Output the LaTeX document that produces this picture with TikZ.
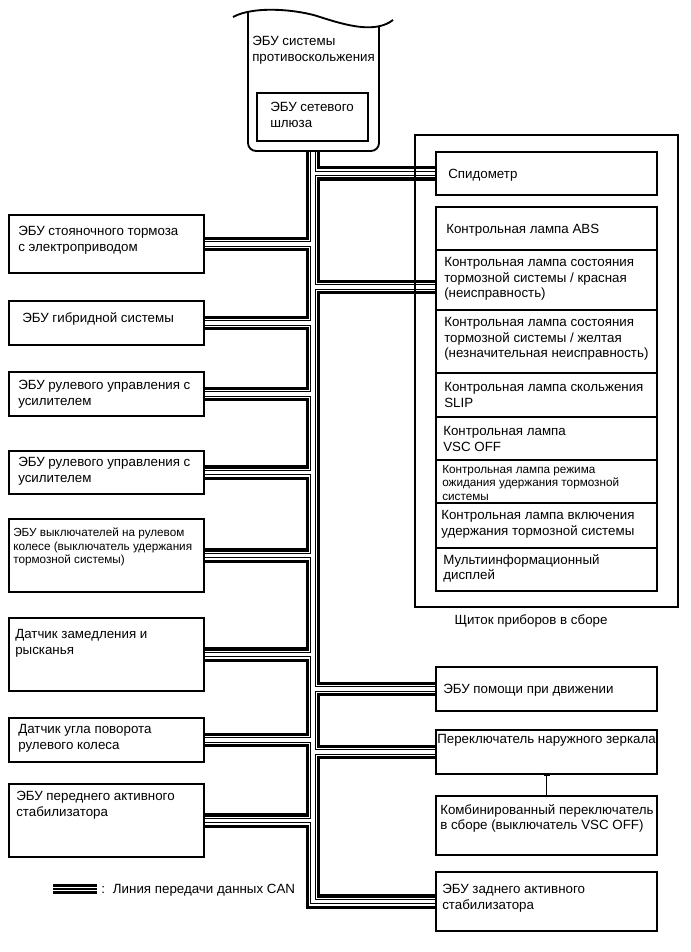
\documentclass[tikz,border=0pt]{standalone}
\usepackage{fontspec}
\setmainfont{Liberation Sans}
\usetikzlibrary{arrows.meta, fit, backgrounds}

\begin{document}
\begin{tikzpicture}[
    x=0.75pt, y=-0.75pt,
    every node/.style={font=\fontsize{10}{11.7}\selectfont},
    box/.style={draw, line width=1.4pt, inner sep=0pt},
    txt/.style={anchor=north west, inner sep=0pt, align=left},
    small/.style={font=\fontsize{8.8}{10}\selectfont},
    can/.style={draw=black, line width=11pt, line join=miter,
        postaction={draw=white, line width=6pt},
        postaction={draw=black, line width=4pt},
        postaction={draw=white, line width=2.6pt}},
    canleg/.style={draw=black, line width=7pt,
        postaction={draw=white, line width=3pt},
        postaction={draw=black, line width=1pt}},
]

\useasboundingbox (0,0) rectangle (691,952);

% ---------------------------------------------------------------- skid control ECU (top)
\draw[line width=1.4pt, rounded corners=6pt] (248,12) -- (248,151) -- (379,151) -- (379,26);
\draw[line width=1.4pt] (233,17) .. controls (255,5) and (300,10) .. (320,17)
    .. controls (345,25) and (375,34) .. (393,20);
\node[txt] (skid) at (252,36) {ЭБУ системы\\противоскольжения};
\coordinate (top) at (313,151);

\node[box, fit={(257,93) (368,141)}] (gw) {};
\node[txt] at (270,102) {ЭБУ сетевого\\шлюза};

% ---------------------------------------------------------------- left column
\node[box, fit={(9,215) (204,273)}] (epb) {};
\node[txt] at (18,226) {ЭБУ стояночного тормоза\\с электроприводом};

\node[box, fit={(9,301) (204,345)}] (hv) {};
\node[txt] at (22,312) {ЭБУ гибридной системы};

\node[box, fit={(9,372) (204,416)}] (eps1) {};
\node[txt] at (18,380) {ЭБУ рулевого управления с\\усилителем};

\node[box, fit={(9,451) (204,494)}] (eps2) {};
\node[txt] at (18,457) {ЭБУ рулевого управления с\\усилителем};

\node[box, fit={(9,519) (204,592)}] (swecu) {};
\node[txt, small] at (13,528) {ЭБУ выключателей на рулевом\\колесе (выключатель удержания\\тормозной системы)};

\node[box, fit={(9,618) (204,691)}] (yaw) {};
\node[txt] at (15,629) {Датчик замедления и\\рысканья};

\node[box, fit={(9,718) (204,762)}] (steer) {};
\node[txt] at (18,724) {Датчик угла поворота\\рулевого колеса};

\node[box, fit={(9,784) (204,857)}] (fstab) {};
\node[txt] at (16,791) {ЭБУ переднего активного\\стабилизатора};

% ---------------------------------------------------------------- combination meter
\node[box, fit={(415,135) (678,607)}] (meter) {};
\node (meterlbl) at (531,621) {Щиток приборов в сборе};

\node[box, fit={(436,152) (657,195)}] (speedo) {};
\node[txt] at (448,169) {Спидометр};

\node[box, fit={(436,207) (657,250)}] (abs) {};
\node[txt] at (446,224) {Контрольная лампа ABS};
\node[box, fit={(436,250) (657,310)}] (brkred) {};
\node[txt] at (444,257) {Контрольная лампа состояния\\тормозной системы / красная\\(неисправность)};
\node[box, fit={(436,310) (657,373)}] (brkyel) {};
\node[txt] at (444,317) {Контрольная лампа состояния\\тормозной системы / желтая\\(незначительная неисправность)};
\node[box, fit={(436,373) (657,417)}] (slip) {};
\node[txt] at (444,382) {Контрольная лампа скольжения\\SLIP};
\node[box, fit={(436,417) (657,460)}] (vscoff) {};
\node[txt] at (443,426) {Контрольная лампа\\VSC OFF};
\node[box, fit={(436,460) (657,503)}] (standby) {};
\node[txt, small] at (442,465) {Контрольная лампа режима\\ожидания удержания тормозной\\системы};
\node[box, fit={(436,503) (657,548)}] (hold) {};
\node[txt] at (441,510) {Контрольная лампа включения\\удержания тормозной системы};
\node[box, fit={(436,548) (657,591)}] (mid) {};
\node[txt] at (443,554) {Мультиинформационный\\дисплей};

% ---------------------------------------------------------------- right column
\node[box, fit={(436,667) (657,711)}] (assist) {};
\node[txt] at (443,684) {ЭБУ помощи при движении};

\node[box, fit={(436,730) (657,774)}] (mirror) {};
\node[txt] at (437,734) {Переключатель наружного зеркала};

\node[box, fit={(436,796) (657,855)}] (combo) {};
\node[txt] at (440,804) {Комбинированный переключатель\\в сборе (выключатель VSC OFF)};

\node[box, fit={(436,872) (657,931)}] (rstab) {};
\node[txt] at (442,884) {ЭБУ заднего активного\\стабилизатора};

\draw[line width=0.75pt, {Bar[width=4.5pt]}-] (mirror.south) -- (combo.north);

% ---------------------------------------------------------------- CAN bus
\coordinate (redin) at ([yshift=-5.25pt]brkred.west);
\begin{pgfonlayer}{background}
\draw[can] (top) -- (top |- rstab.west) -- (rstab.west)
    (top |- epb.east) -- (epb.east)
    (top |- hv.east) -- (hv.east)
    (top |- eps1.east) -- (eps1.east)
    (top |- eps2.east) -- (eps2.east)
    (top |- swecu.east) -- (swecu.east)
    (top |- yaw.east) -- (yaw.east)
    (top |- steer.east) -- (steer.east)
    (top |- fstab.east) -- (fstab.east)
    (top |- speedo.west) -- (speedo.west)
    (top |- redin) -- (redin)
    (top |- assist.west) -- (assist.west)
    (top |- mirror.west) -- (mirror.west);
\end{pgfonlayer}

% legend
\draw[canleg] (53,889) -- (97,889);
\node[txt, anchor=west] (legend) at (101,890) {:\hspace{6pt}Линия передачи данных CAN};

\end{tikzpicture}
\end{document}
